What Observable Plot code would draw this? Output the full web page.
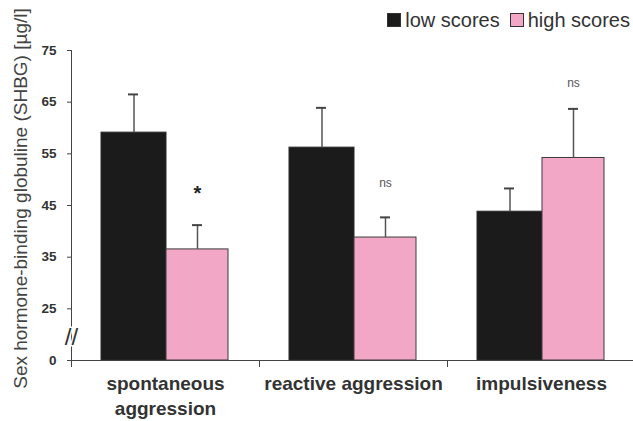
<!DOCTYPE html>
<html><head><meta charset="utf-8">
<script src="https://cdn.jsdelivr.net/npm/d3@7"></script>
<script src="https://cdn.jsdelivr.net/npm/@observablehq/plot@0.6"></script>
<style>
body{margin:0;background:#fff;font-family:"Liberation Sans",Arial,sans-serif;}
#wrap{position:relative;width:633px;height:421px;}
#legend{position:absolute;top:0;right:0;height:36px;display:flex;justify-content:flex-end;align-items:center;padding-right:3px;padding-top:4px;box-sizing:border-box;font-size:20px;color:#333;z-index:2;}
#legend .item{display:flex;align-items:center;margin-left:10px;}
#legend .sw{width:12px;height:12px;border:1px solid #333;margin-right:4px;}
</style></head><body>
<div id="wrap"><div id="legend"></div><div id="chart"></div></div>
<script>
const categories = ["spontaneous\naggression", "reactive aggression", "impulsiveness"];
const series = ["low scores", "high scores"];
const seriesColors = ["#1b1b1b", "#f3a7c7"];
const lowMean = [59.1, 56.2, 43.8];
const lowErr = [7.4, 7.7, 4.5];
const highMean = [36.5, 38.8, 54.2];
const highErr = [4.7, 3.9, 9.5];
const sigLabels = ["*", "ns", "ns"];
const sigY = [48.0, 49.3, 68.6];
const yTicks = [0, 25, 35, 45, 55, 65, 75];
const yBreak = 11.3;
const yTitle = "Sex hormone-binding globuline (SHBG) [µg/l]";

const rows = categories.map((c, i) => ({
  cat: c, low: lowMean[i], lowTop: lowMean[i] + lowErr[i],
  high: highMean[i], highTop: highMean[i] + highErr[i],
  sig: sigLabels[i], sigY: sigY[i]
}));

// legend
const leg = document.getElementById("legend");
series.forEach((s, i) => {
  const it = document.createElement("div");
  it.className = "item";
  it.innerHTML = `<span class="sw" style="background:${seriesColors[i]}"></span><span>${s}</span>`;
  leg.appendChild(it);
});

// broken axis: the 0–25 segment is drawn as long as 10 units
const brokenAxis = v => (v < 25 ? 15 + v * 10 / 25 : v);

const W = 633, H = 421;
const chart = Plot.plot({
  width: W, height: H,
  marginTop: 50, marginBottom: 61, marginLeft: 71, marginRight: 0,
  style: {fontFamily: "'Liberation Sans', Arial, sans-serif", background: "#fff"},
  x: {domain: categories, range: [71, 635], padding: 0, axis: null},
  y: {transform: brokenAxis, domain: [15, 75], range: [360, 50], axis: null},
  marks: [
    Plot.frame({anchor: "left", stroke: "#444", strokeWidth: 1}),
    Plot.barY(rows, {x: "cat", y1: 0, y2: "low", fill: seriesColors[0], stroke: "#2a2a2a", strokeWidth: 1, insetLeft: 30, insetRight: 93}),
    Plot.barY(rows, {x: "cat", y1: 0, y2: "high", fill: seriesColors[1], stroke: "#3a3a3a", strokeWidth: 1, insetLeft: 95, insetRight: 31}),
    Plot.ruleX(rows, {x: "cat", y1: "low", y2: "lowTop", dx: -31.5, stroke: "#555", strokeWidth: 1.5}),
    Plot.tickY(rows, {x: "cat", y: "lowTop", insetLeft: 57, insetRight: 121, stroke: "#444", strokeWidth: 2}),
    Plot.ruleX(rows, {x: "cat", y1: "high", y2: "highTop", dx: 32, stroke: "#555", strokeWidth: 1.5}),
    Plot.tickY(rows, {x: "cat", y: "highTop", insetLeft: 121, insetRight: 57, stroke: "#444", strokeWidth: 2}),
    Plot.text(rows.filter(d => d.sig === "*"), {x: "cat", y: "sigY", text: "sig", dx: 32, dy: 4, fontSize: 20, fontWeight: "bold", fill: "#222"}),
    Plot.text(rows.filter(d => d.sig !== "*"), {x: "cat", y: "sigY", text: "sig", dx: 32, fontSize: 12, fill: "#555"}),
    Plot.ruleY([0], {stroke: "#444", strokeWidth: 1}),
    Plot.ruleX(categories, {x: d => d, dx: -94, dy: 7, insetTop: 303, stroke: "#444", strokeWidth: 1}),
    // y axis ticks and labels (drawn as marks so the broken-axis transform applies)
    Plot.tickY(yTicks, {y: d => d, insetRight: 558, dx: -4, stroke: "#444", strokeWidth: 1}),
    Plot.text(yTicks, {y: d => d, text: d => String(d), frameAnchor: "left", textAnchor: "end", dx: -15, fontSize: 13.5, fontWeight: "bold", fill: "#333"}),
    Plot.axisX({tickSize: 0, tickPadding: 12, fontSize: 19, fontWeight: "bold", lineHeight: 1.3, label: null, fill: "#333"}),
    Plot.text([yTitle], {frameAnchor: "left", textAnchor: "middle", text: d => d, rotate: -90, dx: -51, dy: -7, fontSize: 19, fill: "#444"}),
    Plot.text(["//"], {frameAnchor: "left", textAnchor: "middle", y: () => yBreak, text: d => d, fontSize: 24, fill: "#333", stroke: "#fff", strokeWidth: 3, paintOrder: "stroke"})
  ]
});
document.getElementById("chart").appendChild(chart);
</script>
</body></html>
